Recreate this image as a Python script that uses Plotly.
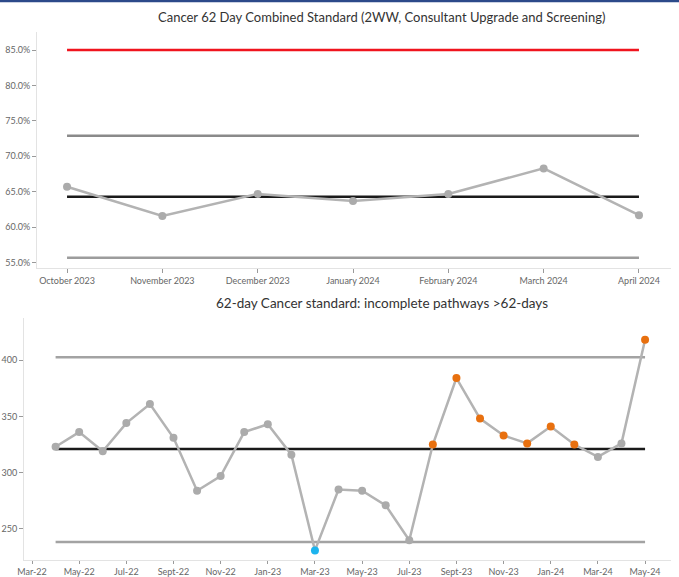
import plotly.graph_objects as go

# ---- Cancer 62 day combined standard (monthly %) ----
top_months = ["October 2023", "November 2023", "December 2023", "January 2024",
              "February 2024", "March 2024", "April 2024"]
top_values = [0.657, 0.616, 0.647, 0.637, 0.647, 0.683, 0.617]
top_target = 0.85
top_mean = 0.643
top_ucl = 0.729
top_lcl = 0.557
top_ticks = [0.55, 0.60, 0.65, 0.70, 0.75, 0.80, 0.85]

# ---- Incomplete pathways over 62 days (monthly count) ----
axis_months = ["Mar-22", "Apr-22", "May-22", "Jun-22", "Jul-22", "Aug-22", "Sept-22",
               "Oct-22", "Nov-22", "Dec-22", "Jan-23", "Feb-23", "Mar-23", "Apr-23",
               "May-23", "Jun-23", "Jul-23", "Aug-23", "Sept-23", "Oct-23", "Nov-23",
               "Dec-23", "Jan-24", "Feb-24", "Mar-24", "Apr-24", "May-24"]
bottom_months = axis_months[1:]
bottom_values = [323, 336, 319, 344, 361, 331, 284, 297, 336, 343, 316, 231, 285,
                 284, 271, 240, 325, 384, 348, 333, 326, 341, 325, 314, 326, 418]
# SPC signal per month: "high" / "low" special cause, "" common cause
bottom_signal = ["", "", "", "", "", "", "", "", "", "", "", "low", "", "", "", "",
                 "high", "high", "high", "high", "high", "high", "high", "", "", "high"]
bottom_mean = 321
bottom_ucl = 402.5
bottom_lcl = 238.5
bottom_tick_labels = axis_months[::2]
bottom_ticks = [250, 300, 350, 400]

GREY_LINE = "#b3b3b3"
GREY_MARK = "#ababab"
signal_colours = {"": GREY_MARK, "high": "#e8700f", "low": "#1cb4ee"}

fig = go.Figure()


def hline(x, y, colour, width, xa, ya):
    fig.add_trace(go.Scatter(x=x, y=[y] * len(x), mode="lines",
                             line=dict(color=colour, width=width),
                             xaxis=xa, yaxis=ya, hoverinfo="skip", showlegend=False))


# top chart: target, control limits, mean, data
hline(top_months, top_target, "#f0141e", 2.5, "x", "y")
hline(top_months, top_ucl, "#8a8a8a", 2.5, "x", "y")
hline(top_months, top_lcl, "#9c9c9c", 2.5, "x", "y")
hline(top_months, top_mean, "#1a1a1a", 2.5, "x", "y")
fig.add_trace(go.Scatter(x=top_months, y=top_values, mode="lines+markers",
                         line=dict(color=GREY_LINE, width=2.5),
                         marker=dict(color=GREY_MARK, size=8),
                         xaxis="x", yaxis="y", showlegend=False))

# bottom chart
hline(bottom_months, bottom_ucl, "#a3a3a3", 2.5, "x2", "y2")
hline(bottom_months, bottom_lcl, "#a3a3a3", 2.5, "x2", "y2")
hline(bottom_months, bottom_mean, "#1a1a1a", 2.5, "x2", "y2")
fig.add_trace(go.Scatter(x=bottom_months, y=bottom_values, mode="lines+markers",
                         line=dict(color=GREY_LINE, width=2.5),
                         marker=dict(color=[signal_colours[s] for s in bottom_signal], size=8),
                         xaxis="x2", yaxis="y2", showlegend=False))

tick_font = dict(family="Lato", size=9, color="#666666")
axis_common = dict(showgrid=False, zeroline=False, showline=True, linecolor="#e3e3e3",
                   linewidth=1, ticks="outside", ticklen=4, tickcolor="#9a9a9a",
                   tickfont=tick_font, fixedrange=True, automargin=False)

fig.update_layout(
    width=679, height=577,
    margin=dict(l=24, r=8, t=32, b=14, autoexpand=False),
    paper_bgcolor="white", plot_bgcolor="white",
    font=dict(family="Lato"),
    xaxis=dict(axis_common, domain=[0.0201, 1.0], type="category",
               categoryorder="array", categoryarray=top_months,
               range=[-0.315, 6.336], anchor="y"),
    yaxis=dict(axis_common, domain=[0.5556, 1.0], range=[0.5425, 0.8754],
               tickvals=top_ticks, tickformat=".1%", anchor="x"),
    xaxis2=dict(axis_common, domain=[0.0, 1.0], type="category",
                categoryorder="array", categoryarray=axis_months,
                tickvals=bottom_tick_labels, ticktext=bottom_tick_labels,
                range=[-0.34, 27.1], anchor="y2", ticklen=3),
    yaxis2=dict(axis_common, domain=[0.0057, 0.4614], range=[222.5, 437.3],
                tickvals=bottom_ticks, anchor="x2"),
    shapes=[dict(type="line", xref="paper", yref="paper", x0=-0.05, x1=1.05,
                 y0=1.0584, y1=1.0584, line=dict(color="#2c4a8a", width=2.5))],
    annotations=[
        dict(text="Cancer 62 Day Combined Standard (2WW, Consultant Upgrade and Screening)",
             xref="paper", yref="paper", x=0.5518, y=1.0282, showarrow=False,
             xanchor="center", yanchor="middle",
             font=dict(family="Lato", size=13, color="#333333")),
        dict(text="62-day Cancer standard: incomplete pathways >62-days",
             xref="paper", yref="paper", x=0.5533, y=0.4896, showarrow=False,
             xanchor="center", yanchor="middle",
             font=dict(family="Lato", size=13.5, color="#333333")),
    ],
)

fig.write_html("out.html")
